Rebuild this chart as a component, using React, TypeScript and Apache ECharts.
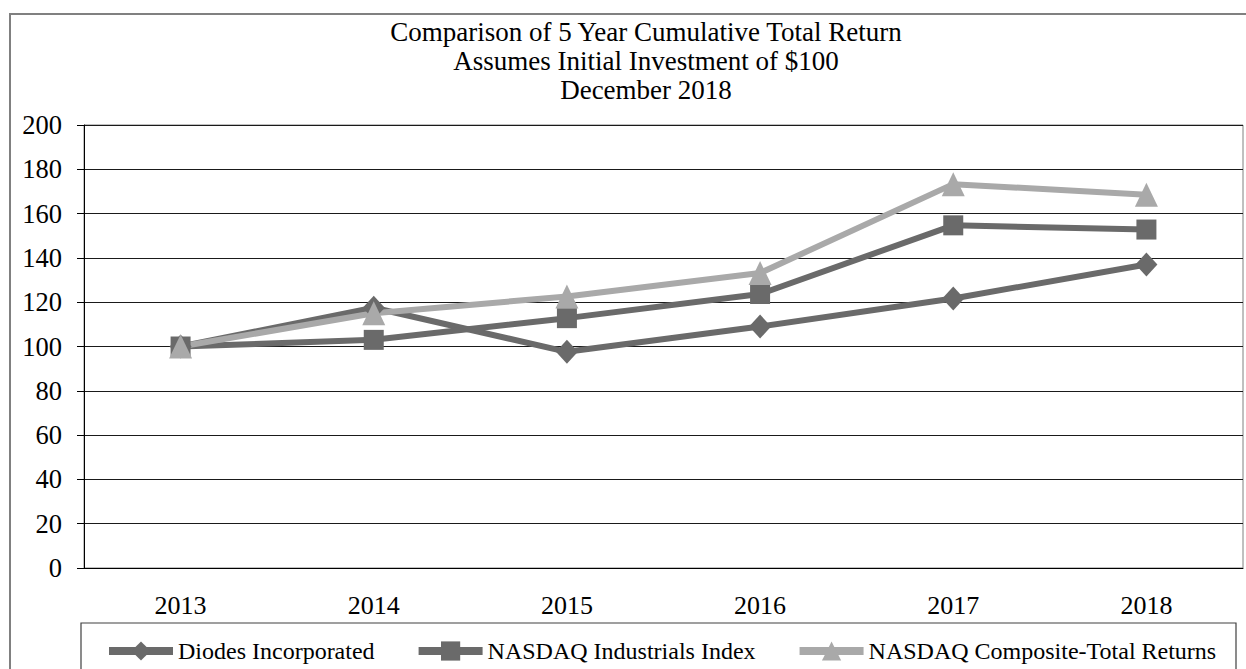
import React, { useEffect, useRef } from "react";
import * as echarts from "echarts";

const years = ["2013", "2014", "2015", "2016", "2017", "2018"];
const diodes = [100, 117.5, 97.6, 109, 121.7, 137];
const industrials = [100, 103, 112.8, 123.7, 154.7, 152.8];
const composite = [100, 115, 122.6, 133.2, 173.3, 168.5];
const titleLines = [
  "Comparison of 5 Year Cumulative Total Return",
  "Assumes Initial Investment of $100",
  "December 2018",
];

const FONT = "'Liberation Serif', 'Times New Roman', serif";
const DARK = "#6a6a6a";
const LIGHT = "#a9a9a9";

export default function App() {
  const ref = useRef<HTMLDivElement>(null);
  useEffect(() => {
    if (!ref.current) return;
    const chart = echarts.init(ref.current, null, { renderer: "svg" });
    const mk = (name: string, data: number[], color: string, symbol: string, size: any) => ({
      name,
      type: "line",
      data,
      symbol,
      symbolSize: size,
      showAllSymbol: true,
      lineStyle: { color, width: 6 },
      itemStyle: { color },
      emphasis: { disabled: true },
    });
    chart.setOption({
      animation: false,
      graphic: [
        {
          type: "rect",
          shape: { x: 10, y: 14, width: 1260, height: 700 },
          style: { fill: "none", stroke: "#808080", lineWidth: 2 },
          silent: true,
          z: -10,
        },
        {
          type: "rect",
          shape: { x: 81, y: 623, width: 1155, height: 60 },
          style: { fill: "#fff", stroke: "#404040", lineWidth: 1.2 },
          silent: true,
          z: -5,
        },
        ...titleLines.map((t, i) => ({
          type: "text",
          x: 646,
          y: 32 + i * 29,
          silent: true,
          style: {
            text: t,
            fill: "#000",
            font: `27px ${FONT}`,
            textAlign: "center",
            textVerticalAlign: "middle",
          },
        })),
      ],
      grid: {
        left: 84,
        top: 125,
        width: 1159,
        height: 443,
        show: true,
        borderColor: "#808080",
        borderWidth: 1,
        backgroundColor: "transparent",
      },
      legend: {
        left: 105,
        top: 639,
        padding: 0,
        itemGap: 40,
        itemWidth: 64,
        itemHeight: 24,
        lineStyle: { width: 8 },
        textStyle: { fontSize: 24, fontFamily: FONT, color: "#000" },
        data: ["Diodes Incorporated", "NASDAQ Industrials Index", "NASDAQ Composite-Total Returns"],
        selectedMode: false,
      },
      xAxis: {
        type: "category",
        data: years,
        boundaryGap: true,
        axisLine: { show: true, lineStyle: { color: "#000", width: 1 } },
        axisTick: { show: false },
        axisLabel: { fontSize: 26, fontFamily: FONT, color: "#000", margin: 24 },
        splitLine: { show: false },
      },
      yAxis: {
        type: "value",
        min: 0,
        max: 200,
        interval: 20,
        axisLine: { show: true, lineStyle: { color: "#000", width: 1 } },
        axisTick: { show: true, length: 7, lineStyle: { color: "#000" } },
        axisLabel: { fontSize: 26.5, fontFamily: FONT, color: "#000", margin: 22 },
        splitLine: { show: true, lineStyle: { color: "#1a1a1a", width: 1 } },
      },
      series: [
        mk("Diodes Incorporated", diodes, DARK, "diamond", [22, 24]),
        mk("NASDAQ Industrials Index", industrials, DARK, "rect", 20),
        mk("NASDAQ Composite-Total Returns", composite, LIGHT, "triangle", [23, 24]),
      ],
    });
    return () => chart.dispose();
  }, []);
  return (
    <div
      ref={ref}
      style={{ position: "fixed", left: 0, top: 0, width: 1246, height: 669, background: "#fff" }}
    />
  );
}
